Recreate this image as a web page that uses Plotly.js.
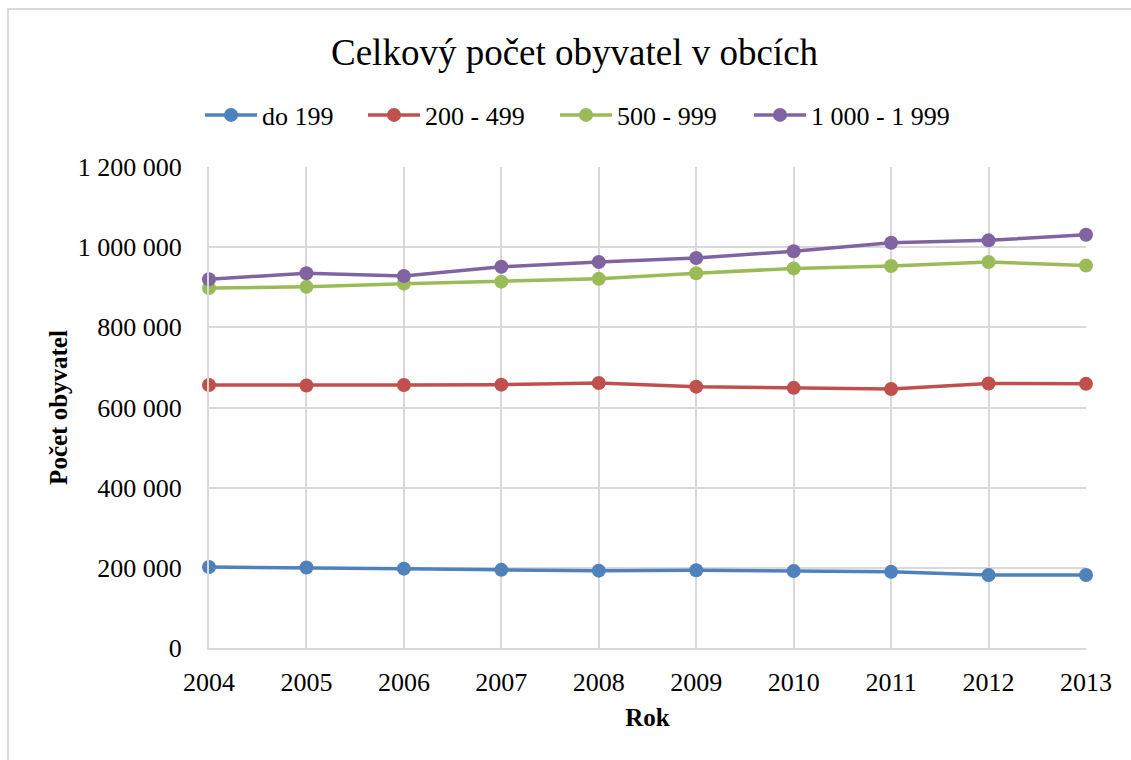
<!DOCTYPE html>
<html>
<head>
<meta charset="utf-8">
<script src="https://cdn.plot.ly/plotly-3.0.1.min.js"></script>
<style>
  html, body { margin: 0; padding: 0; background: #fff; }
  #frame { position: absolute; left: 7px; top: 8px; width: 1130px; height: 760px;
           border-left: 2px solid #d9d9d9; border-top: 2px solid #d9d9d9; box-sizing: border-box; }
  #chart { position: absolute; left: 0; top: 0; width: 1131px; height: 760px; }
</style>
</head>
<body>
<div id="frame"></div>
<div id="chart"></div>
<script>
const years = [2004, 2005, 2006, 2007, 2008, 2009, 2010, 2011, 2012, 2013];
const seriesNames = ["do 199", "200 - 499", "500 - 999", "1 000 - 1 999"];
const do199 = [202000, 201000, 198000, 195000, 193000, 194000, 192000, 190000, 182000, 182000];
const s200_499 = [656000, 655000, 656000, 657000, 661000, 652000, 649000, 646000, 660000, 659000];
const s500_999 = [898000, 901000, 909000, 914000, 921000, 935000, 947000, 953000, 963000, 954000];
const s1000_1999 = [920000, 935000, 928000, 951000, 963000, 973000, 990000, 1011000, 1017000, 1031000];
const yTickVals = [0, 200000, 400000, 600000, 800000, 1000000, 1200000];
const yTickText = ["0", "200 000", "400 000", "600 000", "800 000", "1 000 000", "1 200 000"];
const colors = ["#4f81bd", "#c0504d", "#9bbb59", "#8064a2"];

const font = "Liberation Serif";
const legendFont = "Times New Roman, Liberation Serif, serif";
const legendIds = ["legend", "legend2", "legend3", "legend4"];
const legendLeftPx = [200, 363, 555, 749];

const allSeries = [do199, s200_499, s500_999, s1000_1999];
function buildTraces() {
  return allSeries.map((vals, i) => ({
    x: years, y: vals, name: seriesNames[i], type: "scatter", mode: "lines+markers",
    line: { color: colors[i], width: 3.5 },
    marker: { color: colors[i], size: 14 },
    cliponaxis: false,
    legend: legendIds[i]
  }));
}

function buildLayout() {
  const layout = {
    width: 1131, height: 760,
    paper_bgcolor: "rgba(0,0,0,0)", plot_bgcolor: "rgba(0,0,0,0)",
    font: { family: font, size: 26, color: "#000" },
    margin: { l: 209, r: 45, t: 167, b: 112 },
    title: { text: "Celkový počet obyvatel v obcích", font: { family: font, size: 37, color: "#000" },
             x: 0.508, xanchor: "center", y: 0.931, yanchor: "middle", yref: "container" },
    showlegend: true,
    xaxis: {
      range: [2004, 2013], tickvals: years, ticktext: years.map(String),
      showgrid: true, gridcolor: "#d9d9d9", gridwidth: 2,
      showline: true, linecolor: "#d9d9d9", linewidth: 2, zeroline: false,
      ticks: "", ticklabelstandoff: 10, tickfont: { family: font, size: 26 },
      title: { text: "<b>Rok</b>", font: { family: font, size: 25 }, standoff: 12 }
    },
    yaxis: {
      range: [0, 1200000], tickvals: yTickVals, ticktext: yTickText,
      showgrid: true, gridcolor: "#d9d9d9", gridwidth: 2,
      showline: true, linecolor: "#d9d9d9", linewidth: 2, zeroline: false,
      ticks: "", ticklabelstandoff: 20, tickfont: { family: font, size: 26 },
      title: { text: "<b>Počet obyvatel</b>", font: { family: font, size: 25 }, standoff: 3 }
    }
  };
  legendIds.forEach((id, i) => {
    layout[id] = {
      orientation: "h", xref: "container", yref: "container",
      x: legendLeftPx[i] / 1131, xanchor: "left",
      y: 1 - 115 / 760, yanchor: "middle",
      font: { family: legendFont, size: 26, color: "#000", weight: "normal" }, itemwidth: 52,
      bgcolor: "rgba(0,0,0,0)", borderwidth: 0
    };
  });
  return layout;
}

const config = { displayModeBar: false, staticPlot: true };
Plotly.newPlot("chart", buildTraces(), buildLayout(), config);
</script>
</body>
</html>
